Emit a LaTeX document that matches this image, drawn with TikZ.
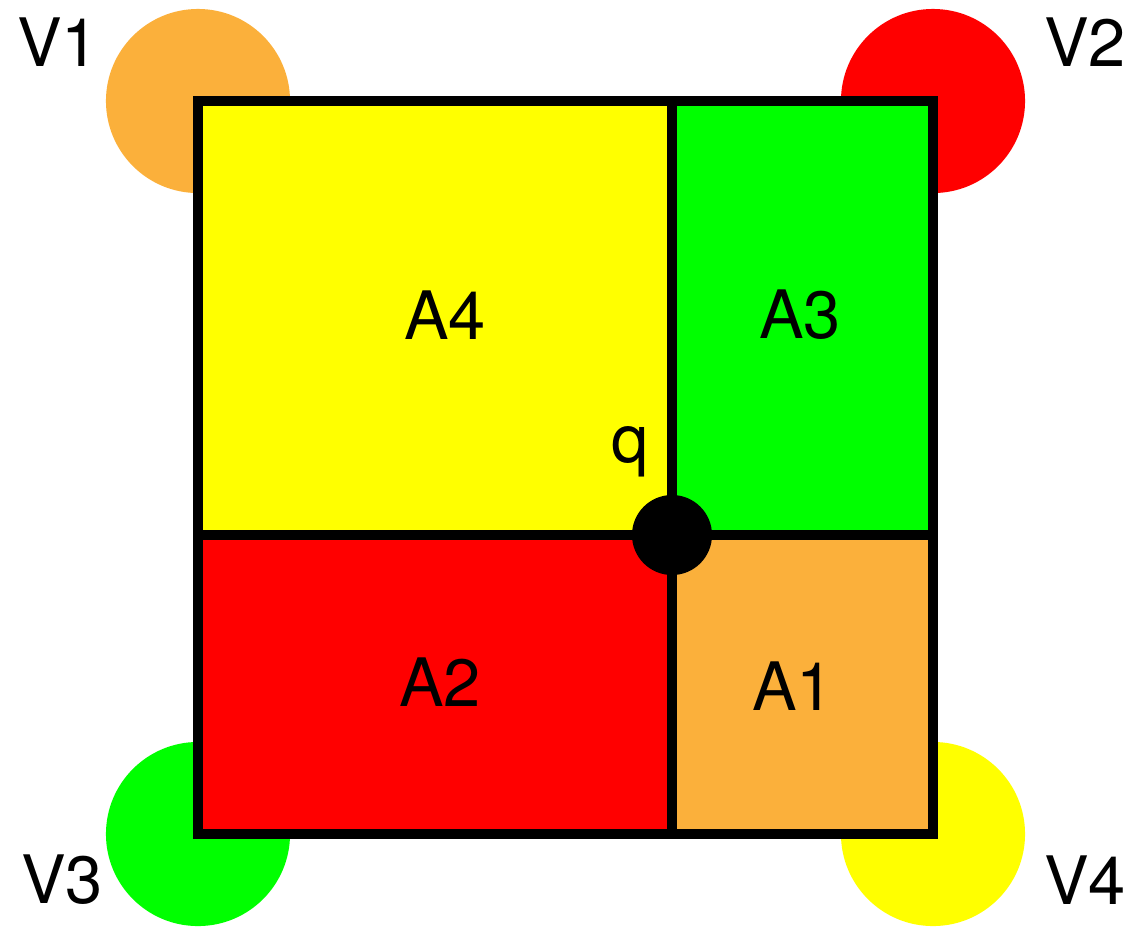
\documentclass[tikz,border=0pt]{standalone}
\usepackage{fontspec}
\setmainfont{TeX Gyre Heros}
\usetikzlibrary{positioning}
\definecolor{vorange}{RGB}{251,176,59}
\definecolor{vred}{RGB}{255,0,0}
\definecolor{vgreen}{RGB}{0,255,0}
\definecolor{vyellow}{RGB}{255,255,0}

\begin{document}
\begin{tikzpicture}[
    x=0.01cm,
    y=-0.01cm,
    vert/.style={circle, minimum size=1.84cm, inner sep=0pt},
    edge/.style={line width=0.1cm},
    lab/.style={font=\fontsize{19}{22}\selectfont, inner sep=0pt}
]
\useasboundingbox (0,0) rectangle (1148,926);
% corner discs
\node[vert, fill=vorange] (c1) at (198,101) {};
\node[vert, fill=vred] (c2) at (933,101) {};
\node[vert, fill=vgreen] (c3) at (198,834) {};
\node[vert, fill=vyellow] (c4) at (933,834) {};
% areas
\fill[vyellow] (198,101) rectangle (672,535);
\fill[vgreen] (672,101) rectangle (933,535);
\fill[vred] (198,535) rectangle (672,834);
\fill[vorange] (672,535) rectangle (933,834);
\draw[edge] (198,101) rectangle (933,834);
\draw[edge] (672,101) -- (672,834);
\draw[edge] (198,535) -- (933,535);
\node[circle, fill, minimum size=0.8cm, inner sep=0pt] (q) at (672,535) {};
% labels
\node[lab] (v1) at (58,42) {V1};
\node[lab] (v2) at (1085,42) {V2};
\node[lab] (v3) at (62,880) {V3};
\node[lab] (v4) at (1085,880) {V4};
\node[lab] (a4) at (445,315) {A4};
\node[lab] (a3) at (800,315) {A3};
\node[lab] (a2) at (440,682) {A2};
\node[lab] (a1) at (793,686) {A1};
\node[lab] (ql) at (630,452) {q};
\end{tikzpicture}
\end{document}
